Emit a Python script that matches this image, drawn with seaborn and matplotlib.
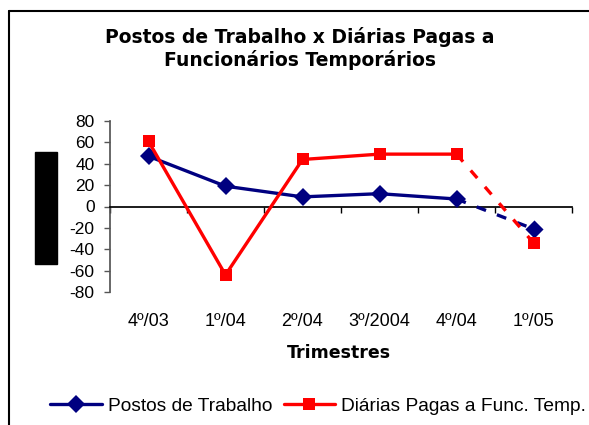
import matplotlib
matplotlib.use("Agg")
import matplotlib.pyplot as plt
import numpy as np
import pandas as pd
import seaborn as sns
from matplotlib.lines import Line2D
from matplotlib.patches import Rectangle
from matplotlib.transforms import blended_transform_factory

quarters = ["4º/03", "1º/04", "2º/04", "3º/2004", "4º/04", "1º/05"]
postos = [47, 19, 9, 12, 7, -21]
diarias = [61, -64, 44, 49, 49, -34]
series_names = ["Postos de Trabalho", "Diárias Pagas a Func. Temp."]
y_ticks = [80, 60, 40, 20, 0, -20, -40, -60, -80]

colors = {series_names[0]: "#000080", series_names[1]: "#FF0000"}
markers = {series_names[0]: "D", series_names[1]: "s"}

sns.set_theme(style="white")
plt.rcParams["font.family"] = ["Liberation Sans", "DejaVu Sans"]
plt.rcParams["text.color"] = "black"
plt.rcParams["ytick.labelcolor"] = "black"

df = pd.DataFrame({
    "pos": list(range(len(quarters))) * 2,
    "quarter": quarters * 2,
    "value": postos + diarias,
    "serie": [series_names[0]] * len(postos) + [series_names[1]] * len(diarias),
})

fig = plt.figure(figsize=(5.89, 4.25), dpi=100)
ax = fig.add_axes([110 / 589, 1 - 292 / 425, 462 / 589, 171 / 425])

solid = df[df["pos"] <= 4]
dashed = df[df["pos"] >= 4]
for name in series_names:
    d = solid[solid["serie"] == name]
    sns.lineplot(data=d, x="pos", y="value", color=colors[name], lw=2.4,
                 marker=markers[name], markersize=9, markeredgewidth=0, ax=ax, zorder=5)
    e = dashed[dashed["serie"] == name]
    sns.lineplot(data=e, x="pos", y="value", color=colors[name], lw=2.4,
                 linestyle=(0, (3, 3.5)), ax=ax, zorder=4)
    last = e[e["pos"] == 5]
    sns.scatterplot(data=last, x="pos", y="value", color=colors[name], marker=markers[name],
                    s=85, linewidth=0, ax=ax, zorder=6)

ax.set_xlim(-0.5, 5.5)
ax.set_ylim(-80, 80)
ax.set_yticks(y_ticks)
ax.set_yticklabels([str(v) for v in y_ticks], fontsize=12.5, color="black")
ax.set_xticks(np.arange(-0.5, 6, 1))
ax.set_xticklabels([])
ax.set_xlabel("")
ax.set_ylabel("")
for s in ["top", "right"]:
    ax.spines[s].set_visible(False)
ax.spines["bottom"].set_position(("data", 0))
ax.spines["bottom"].set_color("black")
ax.spines["left"].set_color("#555555")
ax.tick_params(axis="y", left=True, length=4, width=1, color="#555555", pad=7)
ax.tick_params(axis="x", bottom=True, length=4, width=1, color="black", direction="out")
ax.grid(False)

trans = blended_transform_factory(ax.transData, fig.transFigure)
for i, q in enumerate(quarters):
    ax.text(i, 1 - 322 / 425, q, transform=trans, ha="center", va="center",
            fontsize=13, color="black")

bold_font = ["DejaVu Sans"]
fig.text(339 / 589, 1 - 353 / 425, "Trimestres", ha="center", va="center",
         fontsize=12.5, fontweight="bold", family=bold_font, color="black")
fig.text(300 / 589, 1 - 37 / 425, "Postos de Trabalho x Diárias Pagas a",
         ha="center", va="center", fontsize=13.5, fontweight="bold", family=bold_font,
         color="black")
fig.text(300 / 589, 1 - 60 / 425, "Funcionários Temporários",
         ha="center", va="center", fontsize=13.5, fontweight="bold", family=bold_font,
         color="black")

# black block standing in for the y label
fig.add_artist(Rectangle((35 / 589, 1 - 264 / 425), 22 / 589, 112 / 425,
                         transform=fig.transFigure, color="black"))
# chart frame (left and top edges)
fig.add_artist(Line2D([9 / 589, 9 / 589], [0, 1 - 11 / 425], transform=fig.transFigure,
                      color="black", lw=1.5))
fig.add_artist(Line2D([9 / 589, 1], [1 - 11 / 425, 1 - 11 / 425], transform=fig.transFigure,
                      color="black", lw=1.5))

handles = [Line2D([], [], color=colors[n], lw=2.4, marker=markers[n], markersize=9,
                  markeredgewidth=0) for n in series_names]
leg = fig.legend(handles, series_names, loc="center", bbox_to_anchor=(318 / 589, 1 - 406 / 425),
                 ncol=2, frameon=False, fontsize=13.8, handlelength=2.7, handletextpad=0.3,
                 columnspacing=0.6)
for t in leg.get_texts():
    t.set_color("black")

fig.savefig("out.png", dpi=100)
